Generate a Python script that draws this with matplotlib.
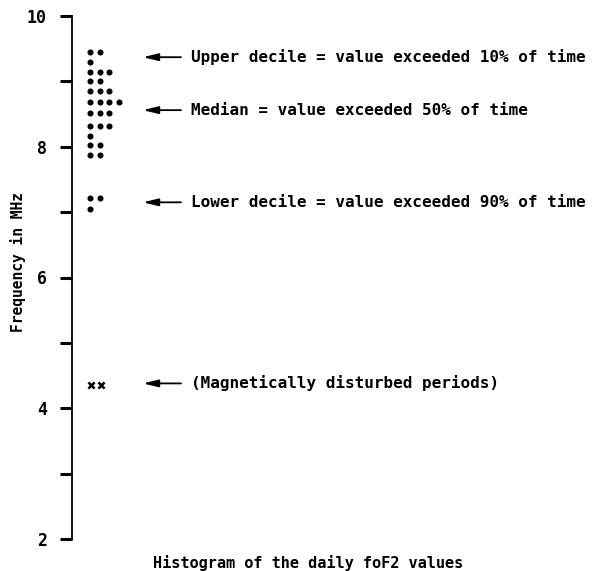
import numpy as np
import matplotlib.pyplot as plt

# Histogram of daily foF2 values (MHz) -> number of days in each row
row_values = [9.45, 9.29, 9.14, 9.00, 8.86, 8.68, 8.51, 8.32, 8.16, 8.02, 7.87, 7.22, 7.05]
row_counts = [2, 1, 3, 2, 3, 4, 3, 3, 1, 2, 2, 2, 1]

# magnetically disturbed days
disturbed_values = [4.35, 4.35]

# annotations: (level in MHz, text)
note_levels = [9.37, 8.56, 7.15, 4.38]
note_texts = [
    "Upper decile = value exceeded 10% of time",
    "Median = value exceeded 50% of time",
    "Lower decile = value exceeded 90% of time",
    "(Magnetically disturbed periods)",
]

major_ticks = [2, 4, 6, 8, 10]
minor_ticks = [3, 5, 7, 9]

fig = plt.figure(figsize=(5.96, 5.71), dpi=100)
ax = fig.add_axes([72 / 596, 32 / 571, 1 - 72 / 596, 523 / 571])
ax.set_xlim(0, 524)
ax.set_ylim(2, 10)

font = dict(family='DejaVu Sans Mono', fontsize=11.5, fontweight='bold', color='black')

# dots of the histogram
x0, dx = 18, 9.7
xs, ys = [], []
for v, n in zip(row_values, row_counts):
    for i in range(n):
        xs.append(x0 + i * dx)
        ys.append(v)
ax.scatter(xs, ys, s=19, color='black', linewidths=0, clip_on=False)

ax.scatter([x0 + 1 + i * 10 for i in range(len(disturbed_values))], disturbed_values,
           marker='x', s=20, color='black', linewidths=1.8, clip_on=False)

# arrows and notes
for lvl, txt in zip(note_levels, note_texts):
    ax.annotate('', xy=(71, lvl), xytext=(109, lvl),
                arrowprops=dict(arrowstyle='-|>,head_length=0.9,head_width=0.22',
                                lw=1.3, color='black', shrinkA=0, shrinkB=0))
    ax.text(119, lvl, txt, va='center', ha='left', **font)

# axis styling
for s in ['top', 'right', 'bottom']:
    ax.spines[s].set_visible(False)
ax.spines['left'].set_linewidth(1.3)
ax.set_xticks([])
ax.set_yticks(major_ticks)
ax.set_yticks(minor_ticks, minor=True)
ax.set_yticklabels([str(t) for t in major_ticks], **dict(font, fontsize=12))
ax.tick_params(axis='y', which='both', direction='out', length=9, width=2.2, pad=9)

fig.text(18 / 596, 1 - 262 / 571, "Frequency in MHz", rotation=90,
         ha='center', va='center', **dict(font, fontsize=10.5))
fig.text(308 / 596, 1 - 563 / 571, "Histogram of the daily foF2 values",
         ha='center', va='center', **dict(font, fontsize=11))

fig.savefig('out.png', dpi=100)
